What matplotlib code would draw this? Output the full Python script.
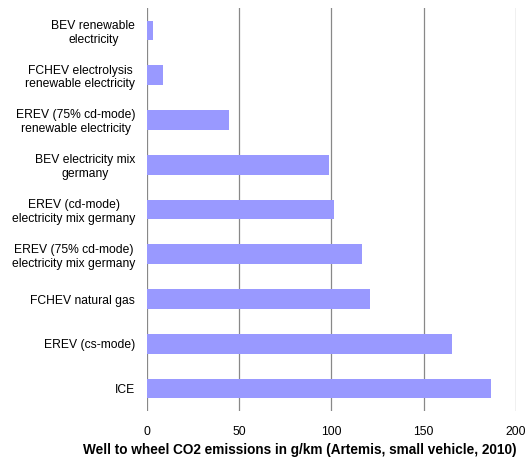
import matplotlib
matplotlib.use("Agg")
import matplotlib.pyplot as plt

categories = [
    "BEV renewable\nelectricity",
    "FCHEV electrolysis\nrenewable electricity",
    "EREV (75% cd-mode)\nrenewable electricity",
    "BEV electricity mix\ngermany",
    "EREV (cd-mode)\nelectricity mix germany",
    "EREV (75% cd-mode)\nelectricity mix germany",
    "FCHEV natural gas",
    "EREV (cs-mode)",
    "ICE",
]
values = [3.4, 8.8, 44.4, 98.6, 101.3, 116.7, 121.1, 165.3, 186.3]
xticks = [0, 50, 100, 150, 200]
xlabel = "Well to wheel CO2 emissions in g/km (Artemis, small vehicle, 2010)"

plt.rcParams['font.family'] = ['Liberation Sans', 'DejaVu Sans']

fig = plt.figure(figsize=(5.29, 4.57), dpi=100)
ax = fig.add_axes([0.278, 0.1007, 0.697, 0.8818])

ypos = list(range(len(categories)))
ax.barh(ypos, values, height=0.44, color="#9999FF", zorder=3)
ax.set_ylim(len(categories) - 0.5, -0.5)
ax.set_xlim(0, 200)
ax.set_xticks(xticks)
ax.set_xticklabels([str(t) for t in xticks])
ax.set_yticks(ypos)
ax.set_yticklabels(categories)
for lbl in ax.get_yticklabels():
    lbl.set_multialignment('center')

ax.grid(axis='x', color="#888888", linewidth=0.9, zorder=0)
ax.grid(axis='y', visible=False)
for s in ax.spines.values():
    s.set_visible(False)
ax.tick_params(axis='both', length=0, labelsize=8.7, colors="#000000")
ax.tick_params(axis='y', pad=8.5)
ax.tick_params(axis='x', pad=10.5)
ax.set_xlabel(xlabel, fontsize=9.8, fontweight='bold')
ax.xaxis.set_label_coords(0.415, -0.08)

fig.savefig("out.png", dpi=100)
